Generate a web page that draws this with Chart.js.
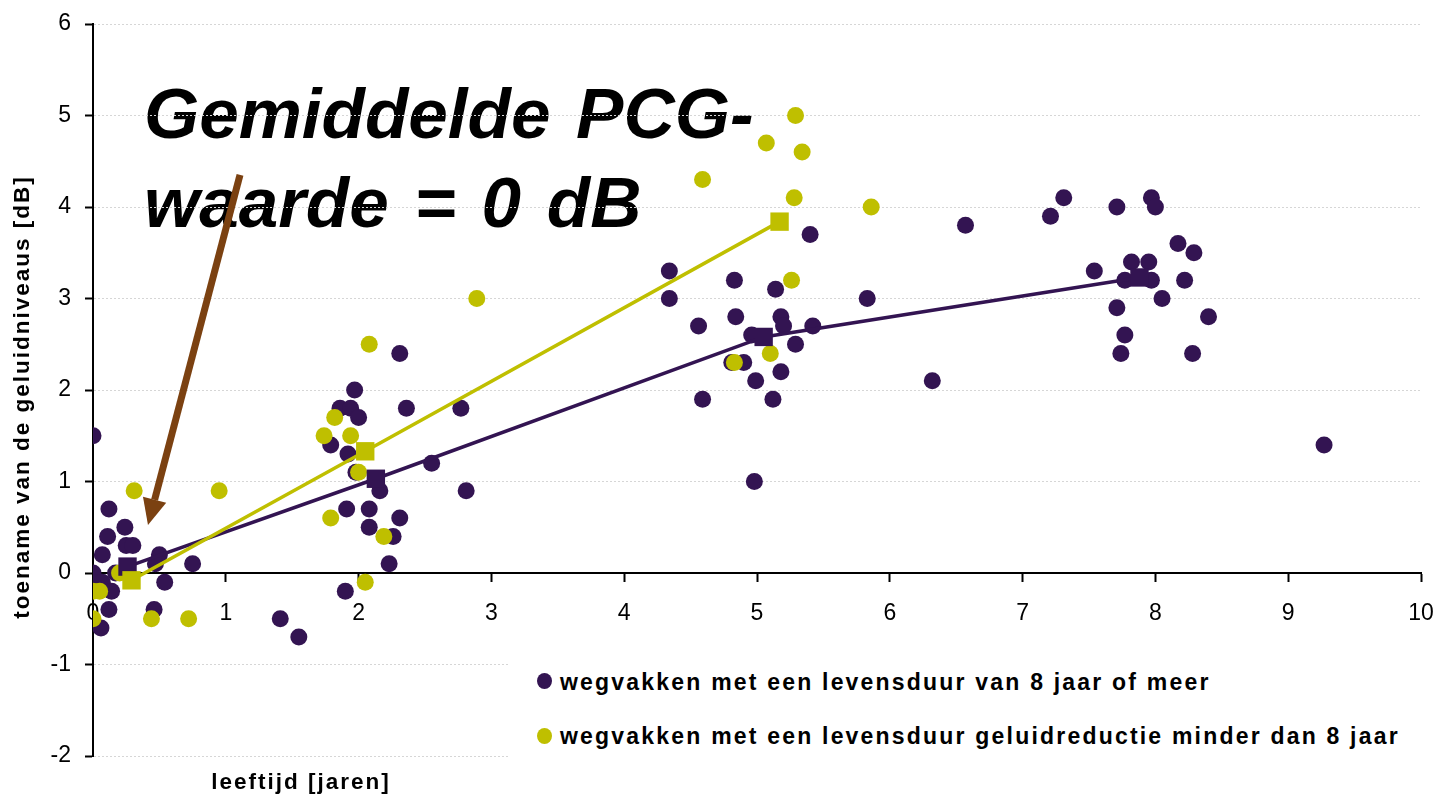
<!DOCTYPE html>
<html>
<head>
<meta charset="utf-8">
<script src="https://cdn.jsdelivr.net/npm/chart.js@4.4.0/dist/chart.umd.min.js"></script>
<style>
  body { margin: 0; background: #fff; }
  #wrap { position: relative; width: 1437px; height: 801px; font-family: "Liberation Sans", Arial, sans-serif; color: #000; }
  #wrap canvas { position: absolute; left: 0; top: 0; z-index: 1; }
  .note { position: absolute; left: 144px; top: 69px; z-index: 0; font-weight: bold; font-style: italic; font-size: 71px; line-height: 89px; word-spacing: 6px; white-space: nowrap; }
  .ytitle { position: absolute; left: -228px; top: 384px; width: 500px; height: 26px; line-height: 26px; text-align: center; font-weight: bold; font-size: 22.5px; letter-spacing: 2px; transform: rotate(-90deg); white-space: nowrap; z-index: 2; }
  .xtitle { position: absolute; left: 151px; top: 769px; width: 300px; line-height: 26px; text-align: center; font-weight: bold; font-size: 22.5px; letter-spacing: 2px; white-space: nowrap; z-index: 2; }
  .legend { position: absolute; left: 508px; top: 661px; width: 912px; height: 96px; background: #fff; z-index: 2; }
  .legend .item { position: absolute; left: 52px; font-weight: bold; font-size: 23px; line-height: 26px; letter-spacing: 2.2px; white-space: nowrap; }
  .legend .dot { position: absolute; left: 29px; width: 15px; height: 16px; border-radius: 50%; }
</style>
</head>
<body>
<div id="wrap">
  <div class="note">Gemiddelde PCG-<br>waarde = 0 dB</div>
  <canvas id="chart" width="1437" height="801"></canvas>
  <div class="ytitle">toename van de geluidniveaus [dB]</div>
  <div class="xtitle">leeftijd [jaren]</div>
  <div class="legend" id="legend"></div>
</div>
<script>
// wegvakken met een levensduur van 8 jaar of meer
const longX = [0.00, 0.12, 0.24, 0.11, 0.25, 0.30, 0.07, 0.50, 0.47, 0.75, 0.00, 0.17, 0.00, 0.07, 0.14, 0.54, 0.12, 0.46, 0.06, 1.41, 1.55,
               2.31, 1.97, 1.86, 1.94, 2.00, 2.36, 2.77, 1.79, 1.92, 1.98, 2.16, 2.55, 2.81, 1.91, 2.08, 2.31, 2.08, 2.26, 2.23, 1.90,
               5.40, 4.34, 4.83, 5.14, 4.34, 5.83, 4.84, 5.18, 4.56, 5.20, 5.42, 4.96, 5.29, 4.81, 4.90, 5.18, 4.99, 4.59, 5.12, 4.98, 6.32, 6.57,
               7.31, 7.21, 7.71, 7.97, 8.00, 8.17, 8.29, 7.54, 7.82, 7.95, 7.77, 7.97, 8.22, 8.05, 7.71, 8.40, 7.77, 7.74, 8.28, 9.27];
const longY = [1.5, 0.7, 0.5, 0.4, 0.3, 0.3, 0.2, 0.2, 0.1, 0.1, 0.0, 0.0, -0.1, -0.1, -0.2, -0.1, -0.4, -0.4, -0.6, -0.5, -0.7,
               2.4, 2.0, 1.8, 1.8, 1.7, 1.8, 1.8, 1.4, 1.3, 1.1, 0.9, 1.2, 0.9, 0.7, 0.7, 0.6, 0.5, 0.4, 0.1, -0.2,
               3.7, 3.3, 3.2, 3.1, 3.0, 3.0, 2.8, 2.8, 2.7, 2.7, 2.7, 2.6, 2.5, 2.3, 2.3, 2.2, 2.1, 1.9, 1.9, 1.0, 2.1, 3.8,
               4.1, 3.9, 4.0, 4.1, 4.0, 3.6, 3.5, 3.3, 3.4, 3.4, 3.2, 3.2, 3.2, 3.0, 2.9, 2.8, 2.6, 2.4, 2.4, 1.4];

// wegvakken met een levensduur geluidreductie minder dan 8 jaar
const shortX = [0.31, 0.95, 0.20, 0.00, 0.05, 0.00, 0.44, 0.72,
                2.08, 1.82, 1.74, 1.94, 2.00, 1.79, 2.19, 2.05, 2.89,
                5.29, 5.07, 5.34, 4.59, 5.28, 5.86, 5.26, 5.10, 4.83];
const shortY = [0.9, 0.9, 0.0, -0.2, -0.2, -0.5, -0.5, -0.5,
                2.5, 1.7, 1.5, 1.5, 1.1, 0.6, 0.4, -0.1, 3.0,
                5.0, 4.7, 4.6, 4.3, 4.1, 4.0, 3.2, 2.4, 2.3];

// group means
const longMeanX = [0.26, 2.13, 5.05, 7.88];
const longMeanY = [0.07, 1.03, 2.58, 3.23];
const shortMeanX = [0.29, 2.05, 5.17];
const shortMeanY = [-0.08, 1.33, 3.84];

const legendLabels = ['wegvakken met een levensduur van 8 jaar of meer',
                      'wegvakken met een levensduur geluidreductie minder dan 8 jaar'];

// arrow pointing at the PCG reference, in data units
const arrowFrom = { x: 1.107, y: 4.35 };
const arrowTo = { x: 0.414, y: 0.525 };

const purple = '#331452';
const yellow = '#bfbf00';
const brown = '#7b4111';
const family = "'Liberation Sans', Arial, sans-serif";

function pts(xs, ys) {
  return xs.map((x, i) => ({ x: x, y: ys[i] }));
}

const arrowPlugin = {
  id: 'pcgArrow',
  afterDatasetsDraw(chart) {
    const { ctx, scales: { x, y } } = chart;
    const x1 = x.getPixelForValue(arrowFrom.x), y1 = y.getPixelForValue(arrowFrom.y);
    const x2 = x.getPixelForValue(arrowTo.x), y2 = y.getPixelForValue(arrowTo.y);
    const ang = Math.atan2(y2 - y1, x2 - x1);
    const headLen = 26, headW = 12;
    const bx = x2 - headLen * Math.cos(ang), by = y2 - headLen * Math.sin(ang);
    ctx.save();
    ctx.strokeStyle = brown;
    ctx.fillStyle = brown;
    ctx.lineWidth = 7;
    ctx.beginPath();
    ctx.moveTo(x1, y1);
    ctx.lineTo(bx, by);
    ctx.stroke();
    ctx.beginPath();
    ctx.moveTo(x2, y2);
    ctx.lineTo(bx + headW * Math.sin(ang), by - headW * Math.cos(ang));
    ctx.lineTo(bx - headW * Math.sin(ang), by + headW * Math.cos(ang));
    ctx.closePath();
    ctx.fill();
    ctx.restore();
  }
};

const ctx = document.getElementById('chart').getContext('2d');
new Chart(ctx, {
  type: 'scatter',
  data: {
    datasets: [
      { label: legendLabels[0], data: pts(longX, longY), backgroundColor: purple, borderWidth: 0, pointRadius: 8.5, order: 4 },
      { label: legendLabels[1], data: pts(shortX, shortY), backgroundColor: yellow, borderWidth: 0, pointRadius: 8.5, order: 3 },
      { type: 'line', data: pts(longMeanX, longMeanY), borderColor: purple, backgroundColor: purple, borderWidth: 3.5,
        pointStyle: 'rect', pointRadius: 13, pointBorderWidth: 0, tension: 0, order: 2 },
      { type: 'line', data: pts(shortMeanX, shortMeanY), borderColor: yellow, backgroundColor: yellow, borderWidth: 3.5,
        pointStyle: 'rect', pointRadius: 13, pointBorderWidth: 0, tension: 0, order: 1 }
    ]
  },
  options: {
    responsive: false,
    animation: false,
    layout: { padding: { left: 0, right: 16, top: 24, bottom: 45 } },
    plugins: { legend: { display: false }, tooltip: { enabled: false } },
    scales: {
      x: {
        type: 'linear', min: 0, max: 10,
        position: { y: 0 },
        ticks: { stepSize: 1, color: '#000', padding: 19, font: { size: 23, family: family } },
        grid: { drawOnChartArea: false, tickLength: 8, tickColor: '#000', tickWidth: 2 },
        border: { color: '#000', width: 2 },
        afterFit(scale) { scale.paddingLeft = 0; scale.paddingRight = 0; }
      },
      y: {
        type: 'linear', min: -2, max: 6,
        ticks: { stepSize: 1, color: '#000', padding: 14, font: { size: 23, family: family } },
        grid: { color: '#d6d6d6', lineWidth: 1, tickLength: 8, tickColor: '#000', tickWidth: 2 },
        border: { color: '#000', width: 2, dash: [2, 2] },
        afterFit(scale) { scale.width = 93; scale.paddingTop = 0; scale.paddingBottom = 0; }
      }
    }
  },
  plugins: [arrowPlugin]
});

// legend
const legend = document.getElementById('legend');
[purple, yellow].forEach((c, i) => {
  const dot = document.createElement('span');
  dot.className = 'dot';
  dot.style.background = c;
  dot.style.top = (12 + i * 55) + 'px';
  legend.appendChild(dot);
  const item = document.createElement('div');
  item.className = 'item';
  item.style.top = (8 + i * 54) + 'px';
  item.textContent = legendLabels[i];
  legend.appendChild(item);
});
</script>
</body>
</html>
